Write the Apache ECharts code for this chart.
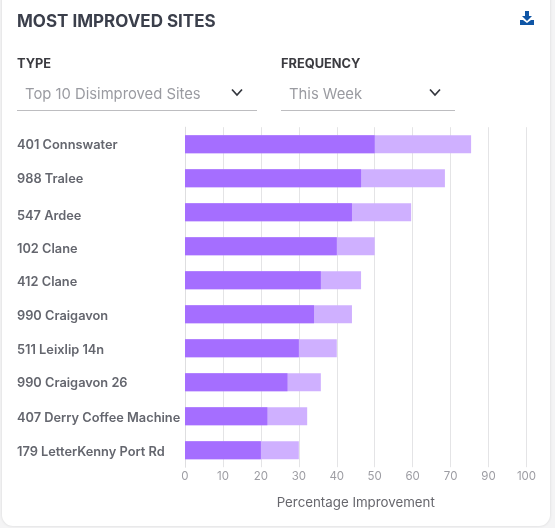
<!DOCTYPE html>
<html><head><meta charset="utf-8">
<style>html,body{margin:0;padding:0;background:#f4f4f5}#c{width:555px;height:528px}</style>
<script src="https://cdn.jsdelivr.net/npm/echarts@6/dist/echarts.min.js"></script>
</head><body><div id="c"></div>
<script>
const sites = ['401 Connswater','988 Tralee','547 Ardee','102 Clane','412 Clane','990 Craigavon','511 Leixlip 14n','990 Craigavon 26','407 Derry Coffee Machine','179 LetterKenny Port Rd'];
const improved = [50,46.4,44,40,35.8,34,30,27,21.7,20];
const totals = [75.4,68.5,59.6,50,46.4,44,40,35.8,32.2,30];
const tickLabels = ['0','10','20','30','40','50','60','70','90','100'];
const labelNudge = [1,1,4,3,2,2,2,1,2,2];
const FONT = 'Inter, "Open Sans", sans-serif';
const chart = echarts.init(document.getElementById('c'), null, {renderer:'canvas'});
function txt(x,y,text,size,weight,fill){return {type:'text',x,y,z:5,style:{text,fontSize:size,fontWeight:weight,fill,fontFamily:FONT,textVerticalAlign:'middle'}};}
function chev(cx,cy){return {type:'polyline',z:5,shape:{points:[[cx-5,cy-3],[cx,cy+2.5],[cx+5,cy-3]]},style:{stroke:'#33363d',lineWidth:1.7,fill:null}};}
function rule(x1,x2,y){return {type:'line',z:5,shape:{x1,y1:y,x2,y2:y},style:{stroke:'#bdbdc0',lineWidth:1}};}
function siteStyle(n){return {color:'#64666e',fontSize:12.8,fontWeight:600,fontFamily:FONT,padding:[n*2,0,0,0]};}
chart.setOption({
  animation:false,
  backgroundColor:'#f4f4f5',
  textStyle:{fontFamily:FONT},
  graphic:[
    {type:'rect',z:-10,shape:{x:2,y:-20,width:548,height:546,r:11},style:{fill:'#fff',shadowBlur:3,shadowColor:'rgba(0,0,0,0.12)'}},
    txt(17,22,'MOST IMPROVED SITES',17,700,'#3b3f4b'),
    txt(17,64,'TYPE',12.8,700,'#3b3b40'),
    txt(281,64,'FREQUENCY',12.8,700,'#3b3b40'),
    txt(25,95,'Top 10 Disimproved Sites',14.8,400,'#9a9ba1'),
    txt(289,95,'This Week',14.8,400,'#9a9ba1'),
    chev(237,92.5),chev(435,92.5),rule(17,257,110.5),rule(281,455,110.5),
    {type:'polygon',z:5,shape:{points:[[525,11],[529,11],[529,16],[532,16],[527,21],[522,16],[525,16]]},style:{fill:'#0f55a5'}},
    {type:'polygon',z:5,shape:{points:[[520,20],[523,20],[527,23],[531,20],[534,20],[534,25],[520,25]]},style:{fill:'#0f55a5'}}
  ],
  grid:{left:185,right:28.5,top:127.2,bottom:60.8,containLabel:false,outerBoundsMode:'none'},
  xAxis:{type:'value',min:0,max:90,interval:10,
    axisLine:{show:false},axisTick:{show:false},
    splitLine:{show:true,lineStyle:{color:'#e4e4e6',width:1}},
    axisLabel:{color:'#9d9da3',fontSize:11.5,margin:3,formatter:v=>tickLabels[Math.round(v/10)]},
    name:'Percentage Improvement',nameLocation:'middle',nameGap:29,
    nameTextStyle:{color:'#67676d',fontSize:13.3}},
  yAxis:{type:'category',inverse:true,data:sites,
    axisLine:{show:true,lineStyle:{color:'#dedee0'}},axisTick:{show:false},
    axisLabel:{align:'left',margin:168,color:'#64666e',fontSize:12.8,fontWeight:600,
      formatter:(v,i)=>`{n${labelNudge[i]}|${v}}`,
      rich:{n1:siteStyle(1),n2:siteStyle(2),n3:siteStyle(3),n4:siteStyle(4)}}},
  series:[
    {name:'Total',type:'bar',data:totals,barWidth:18,barGap:'-100%',itemStyle:{color:'#cfb0ff'},z:2},
    {name:'Improvement',type:'bar',data:improved,barWidth:18,itemStyle:{color:'#a56eff'},z:3}
  ]
});
</script></body></html>
